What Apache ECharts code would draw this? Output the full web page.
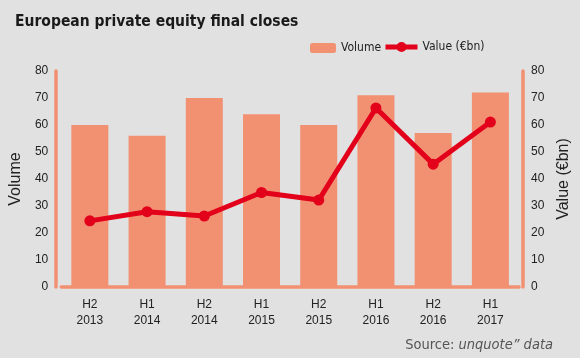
<!DOCTYPE html>
<html>
<head>
<meta charset="utf-8">
<script src="https://cdn.jsdelivr.net/npm/echarts@6/dist/echarts.min.js"></script>
<style>
html,body{margin:0;padding:0;background:#e1e1e1;}
#c{width:580px;height:358px;}
</style>
</head>
<body>
<div id="c"></div>
<script>
const categories = ['H2\n2013','H1\n2014','H2\n2014','H1\n2015','H2\n2015','H1\n2016','H2\n2016','H1\n2017'];
const volume = [60, 56, 70, 64, 60, 71, 57, 72];
const value = [24.5, 27.9, 26.3, 35, 32.2, 66.3, 45.5, 61.1];
const yMin = 0, yMax = 80, yStep = 10;

const BAR = '#f29072';
const RED = '#e2001a';
const TXT = '#222222';
const SANS = '"Liberation Sans", Arial, sans-serif';
const NARROW = '"Liberation Sans Narrow", "DejaVu Sans Condensed", "Liberation Sans", sans-serif';

const chart = echarts.init(document.getElementById('c'), null, {renderer: 'canvas'});
chart.setOption({
  backgroundColor: '#e1e1e1',
  animation: false,
  title: [
    {
      text: 'European private equity final closes',
      left: 10, top: 9,
      textStyle: {fontFamily: NARROW, fontWeight: 'bold', fontSize: 15.5, color: '#1a1a1a'}
    },
    {
      text: '{a|Source: }{b|unquote\u201d data}',
      right: 22, top: 333,
      textStyle: {
        fontWeight: 'normal',
        rich: {
          a: {fontFamily: NARROW, fontSize: 14.5, fontWeight: 'normal', color: '#555555'},
          b: {fontFamily: NARROW, fontSize: 14.5, fontWeight: 'normal', fontStyle: 'italic', color: '#555555'}
        }
      }
    }
  ],
  legend: [
    {
      data: ['Volume'],
      left: 305, top: 37,
      itemWidth: 26, itemHeight: 10,
      textStyle: {fontFamily: NARROW, fontSize: 12, color: TXT}
    },
    {
      data: ['Value (€bn)'],
      left: 378, top: 36,
      itemWidth: 32, itemHeight: 12.5,
      lineStyle: {width: 5},
      textStyle: {fontFamily: NARROW, fontSize: 12, color: TXT}
    }
  ],
  grid: {left: 60, right: 61, top: 71, bottom: 71, containLabel: false},
  xAxis: {
    type: 'category',
    data: categories,
    offset: 1.5,
    axisLine: {show: true, lineStyle: {color: BAR, width: 3.5}},
    axisTick: {show: false},
    axisLabel: {fontFamily: SANS, fontSize: 12, color: TXT, lineHeight: 16, margin: 8, interval: 0}
  },
  yAxis: [
    {
      type: 'value', min: yMin, max: yMax, interval: yStep,
      position: 'left', offset: 5,
      name: 'Volume', nameLocation: 'middle', nameRotate: 90, nameGap: 31,
      nameTextStyle: {fontFamily: SANS, fontSize: 16, color: TXT},
      axisLine: {show: true, lineStyle: {color: BAR, width: 3.5}},
      axisTick: {show: false},
      splitLine: {show: false},
      axisLabel: {fontFamily: SANS, fontSize: 12, color: TXT, margin: 8}
    },
    {
      type: 'value', min: yMin, max: yMax, interval: yStep,
      position: 'right', offset: 4,
      name: 'Value (€bn)', nameLocation: 'middle', nameRotate: 90, nameGap: 33,
      nameTextStyle: {fontFamily: SANS, fontSize: 16, color: TXT},
      axisLine: {show: true, lineStyle: {color: BAR, width: 3.5}},
      axisTick: {show: false},
      splitLine: {show: false},
      axisLabel: {fontFamily: SANS, fontSize: 12, color: TXT, margin: 8}
    }
  ],
  series: [
    {
      name: 'Volume', type: 'bar', yAxisIndex: 0,
      data: volume, barWidth: 37,
      itemStyle: {color: BAR}
    },
    {
      name: 'Value (€bn)', type: 'line', yAxisIndex: 1,
      data: value, symbol: 'circle', symbolSize: 11,
      lineStyle: {color: RED, width: 5},
      itemStyle: {color: RED},
      z: 5
    }
  ]
});
</script>
</body>
</html>
